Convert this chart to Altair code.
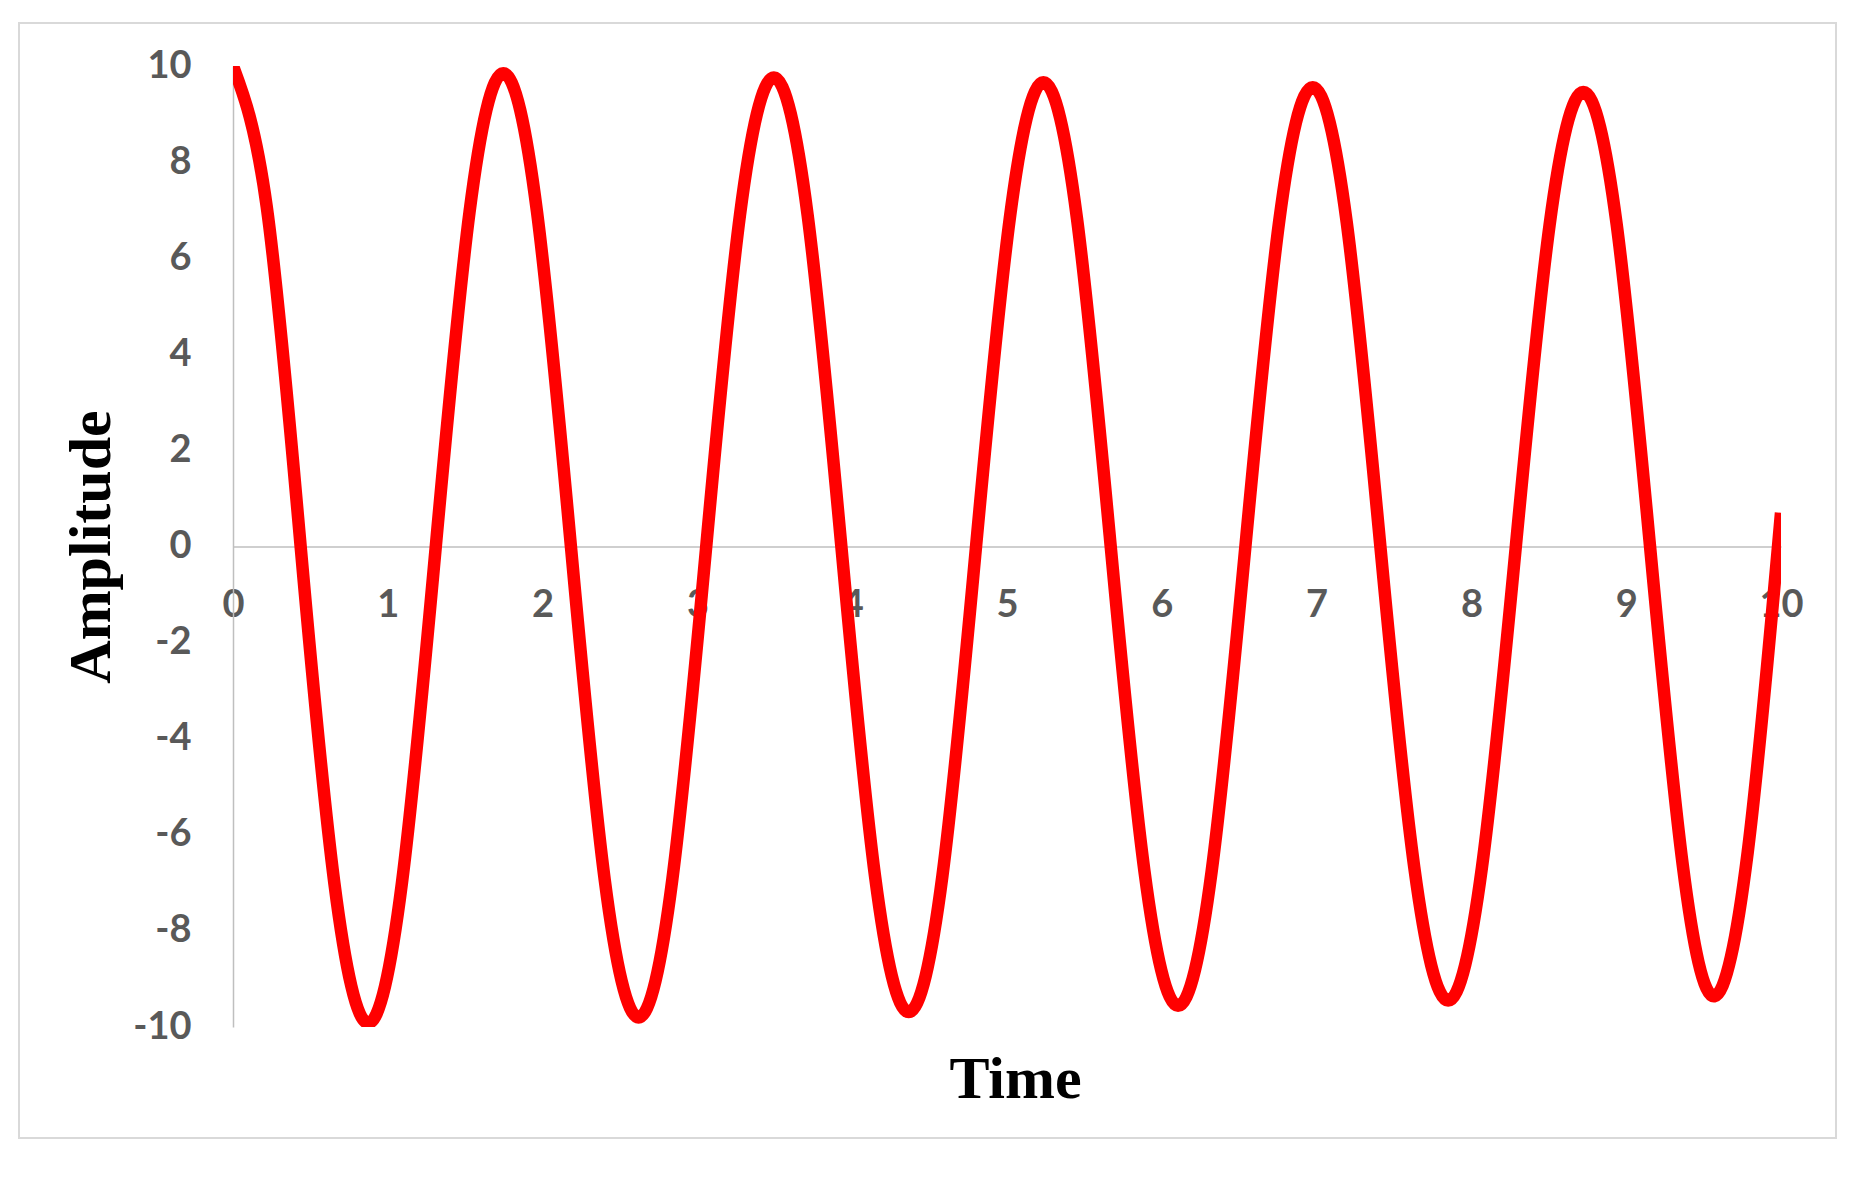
import altair as alt
import pandas as pd

# Values (time, amplitude)
time = [
    0.000, 0.218, 0.437, 0.655, 0.873, 1.091, 1.310, 1.528, 1.746,
    1.964, 2.183, 2.401, 2.620, 2.838, 3.057, 3.275, 3.494,
    3.712, 3.930, 4.147, 4.365, 4.583, 4.800, 5.018, 5.235,
    5.452, 5.670, 5.888, 6.105, 6.322, 6.540, 6.758, 6.975,
    7.194, 7.412, 7.631, 7.850, 8.068, 8.287, 8.505, 8.723,
    8.939, 9.154, 9.365, 9.570, 9.785, 10.000,
]
amplitude = [
    10.00, 7.07, 0.00, -7.01, -9.92, -7.01, 0.00, 6.96, 9.85,
    6.96, 0.00, -6.93, -9.80, -6.93, 0.00, 6.90, 9.76,
    6.90, 0.00, -6.85, -9.69, -6.85, 0.00, 6.83, 9.66,
    6.83, 0.00, -6.76, -9.56, -6.76, 0.00, 6.76, 9.56,
    6.76, 0.00, -6.68, -9.45, -6.68, 0.00, 6.69, 9.46,
    6.69, 0.00, -6.62, -9.36, -6.36, 0.70,
]
y_ticks = [-10, -8, -6, -4, -2, 0, 2, 4, 6, 8, 10]
x_ticks = [0, 1, 2, 3, 4, 5, 6, 7, 8, 9, 10]

df = pd.DataFrame({"Time": time, "Amplitude": amplitude})

W, H = 1548, 961
LABEL_FONT = "Lato"
TITLE_FONT = "Liberation Serif"
GRAY = "#595959"
AXIS_LINE = "#bfbfbf"

x_axis = alt.Axis(
    values=x_ticks,
    offset=-H / 2,
    ticks=False,
    tickSize=0,
    grid=False,
    domainColor=AXIS_LINE,
    domainWidth=1.5,
    labelFont=LABEL_FONT,
    labelFontSize=38,
    labelFontWeight="bold",
    labelColor=GRAY,
    labelPadding=70,
    labelBaseline="alphabetic",
    labelFlush=False,
    labelOverlap=False,
    labelExpr="datum.value + ''",
    title="Time",
    titleFont=TITLE_FONT,
    titleFontSize=60,
    titleFontWeight="bold",
    titleColor="black",
    titleBaseline="alphabetic",
    titleAlign="center",
    titleX=782,
    titleY=551,
)

y_axis = alt.Axis(
    values=y_ticks,
    ticks=False,
    tickSize=0,
    grid=False,
    domainColor=AXIS_LINE,
    domainWidth=1.5,
    labelFont=LABEL_FONT,
    labelFontSize=38,
    labelFontWeight="bold",
    labelColor=GRAY,
    labelPadding=42,
    labelOverlap=False,
    labelExpr="datum.value + ''",
    title="Amplitude",
    titleFont=TITLE_FONT,
    titleFontSize=60,
    titleFontWeight="bold",
    titleColor="black",
    titleAngle=270,
    titleBaseline="alphabetic",
    titleAlign="center",
    titleX=-124,
    titleY=H / 2,
)

line = alt.Chart(df).mark_line(
    color="#ff0000",
    strokeWidth=12.5,
    interpolate="natural",
    strokeCap="butt",
    clip=True,
).encode(
    x=alt.X("Time:Q", scale=alt.Scale(domain=[0, 10], nice=False, zero=False), axis=x_axis),
    y=alt.Y("Amplitude:Q", scale=alt.Scale(domain=[-10, 10], nice=False), axis=y_axis),
    order="Time:Q",
)

frame = alt.Chart(pd.DataFrame({"f": [0]})).mark_rect(
    fill="transparent",
    stroke="#d9d9d9",
    strokeWidth=2,
).encode(
    x=alt.value(-214),
    x2=alt.value(1603),
    y=alt.value(-43),
    y2=alt.value(1072),
)

chart = alt.layer(frame, line).properties(
    width=W,
    height=H,
    autosize=alt.AutoSizeParams(type="none"),
    padding={"left": 225, "top": 58, "right": 60, "bottom": 130},
    background="white",
).configure_view(strokeWidth=0)

chart.save("out.html", embed_options={"renderer": "svg", "actions": False})
